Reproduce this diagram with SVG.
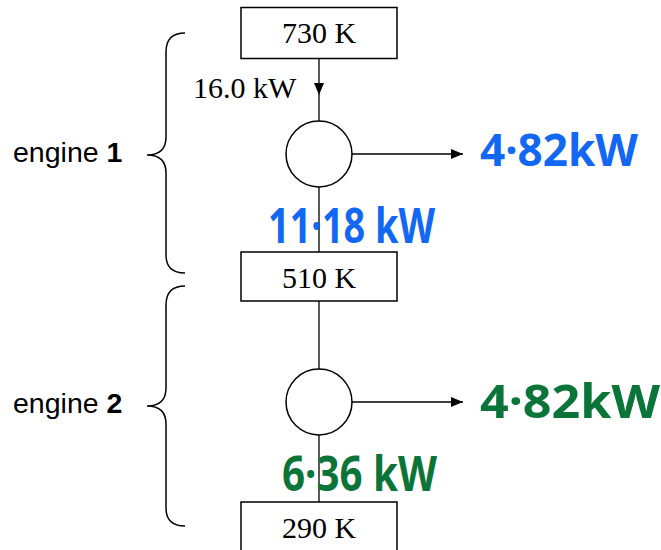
<svg xmlns="http://www.w3.org/2000/svg" width="661" height="550" viewBox="0 0 661 550">
<defs>
<style>
.box{fill:#fff;stroke:#000;stroke-width:1.5}
.ln{fill:none;stroke:#000;stroke-width:1.3}
.brace{fill:none;stroke:#000;stroke-width:1.5}
.tnr{font-family:"Liberation Serif","Times New Roman",serif;font-size:30px;fill:#000}
.sans{font-family:"Liberation Sans",Arial,sans-serif;font-size:28.5px;fill:#000}
.hw{font-family:"Noto Sans","DejaVu Sans",sans-serif;font-weight:700}
.blue{fill:#1268f3}
.green{fill:#0b7539}
</style>
<marker id="ah" viewBox="0 0 12 10" refX="12" refY="5" markerWidth="12" markerHeight="10" markerUnits="userSpaceOnUse" orient="auto">
<path d="M0,0 L12,5 L0,10 Z" fill="#000"/>
</marker>
</defs>
<g id="connectors">
<line class="ln" x1="319" y1="58" x2="319" y2="95" marker-end="url(#ah)"/>
<line class="ln" x1="319" y1="95" x2="319" y2="121"/>
<line class="ln" x1="319" y1="187" x2="319" y2="252"/>
<line class="ln" x1="352" y1="154" x2="463" y2="154" marker-end="url(#ah)"/>
<line class="ln" x1="319" y1="301" x2="319" y2="369"/>
<line class="ln" x1="319" y1="435" x2="319" y2="502"/>
<line class="ln" x1="352" y1="402" x2="463" y2="402" marker-end="url(#ah)"/>
</g>
<g id="node-730K">
<rect class="box" x="241" y="7.5" width="156" height="51"/>
<text class="tnr" x="319" y="43" text-anchor="middle">730 K</text>
</g>
<g id="label-16kW">
<text class="tnr" x="193" y="98">16.0 kW</text>
</g>
<g id="node-engine1">
<circle class="box" cx="319" cy="154" r="33"/>
</g>
<g id="node-510K">
<rect class="box" x="241" y="252" width="156" height="49"/>
<text class="tnr" x="319" y="288" text-anchor="middle">510 K</text>
</g>
<g id="node-engine2">
<circle class="box" cx="319" cy="402" r="33"/>
</g>
<g id="node-290K">
<rect class="box" x="241" y="502" width="156" height="51"/>
<text class="tnr" x="319" y="538" text-anchor="middle">290 K</text>
</g>
<g id="brace1">
<path class="brace" d="M185,33 Q166,33 166,52 L166,137 Q166,155 147,155 Q166,155 166,173 L166,255 Q166,273 185,273"/>
<text class="sans" x="13" y="162">engine <tspan font-weight="bold">1</tspan></text>
</g>
<g id="brace2">
<path class="brace" d="M185,286 Q166,286 166,305 L166,388 Q166,406 147,406 Q166,406 166,424 L166,508 Q166,526 185,526"/>
<text class="sans" x="13" y="413">engine <tspan font-weight="bold">2</tspan></text>
</g>
<g id="handwritten">
<text class="hw blue" x="480" y="166" font-size="44" textLength="158" lengthAdjust="spacingAndGlyphs">4·82kW</text>
<text class="hw blue" x="268" y="243" font-size="48" textLength="167" lengthAdjust="spacingAndGlyphs">11·18 kW</text>
<text class="hw green" x="480" y="418" font-size="46" textLength="180" lengthAdjust="spacingAndGlyphs">4·82kW</text>
<text class="hw green" x="282" y="491" font-size="48" textLength="155" lengthAdjust="spacingAndGlyphs">6·36 kW</text>
</g>
</svg>
